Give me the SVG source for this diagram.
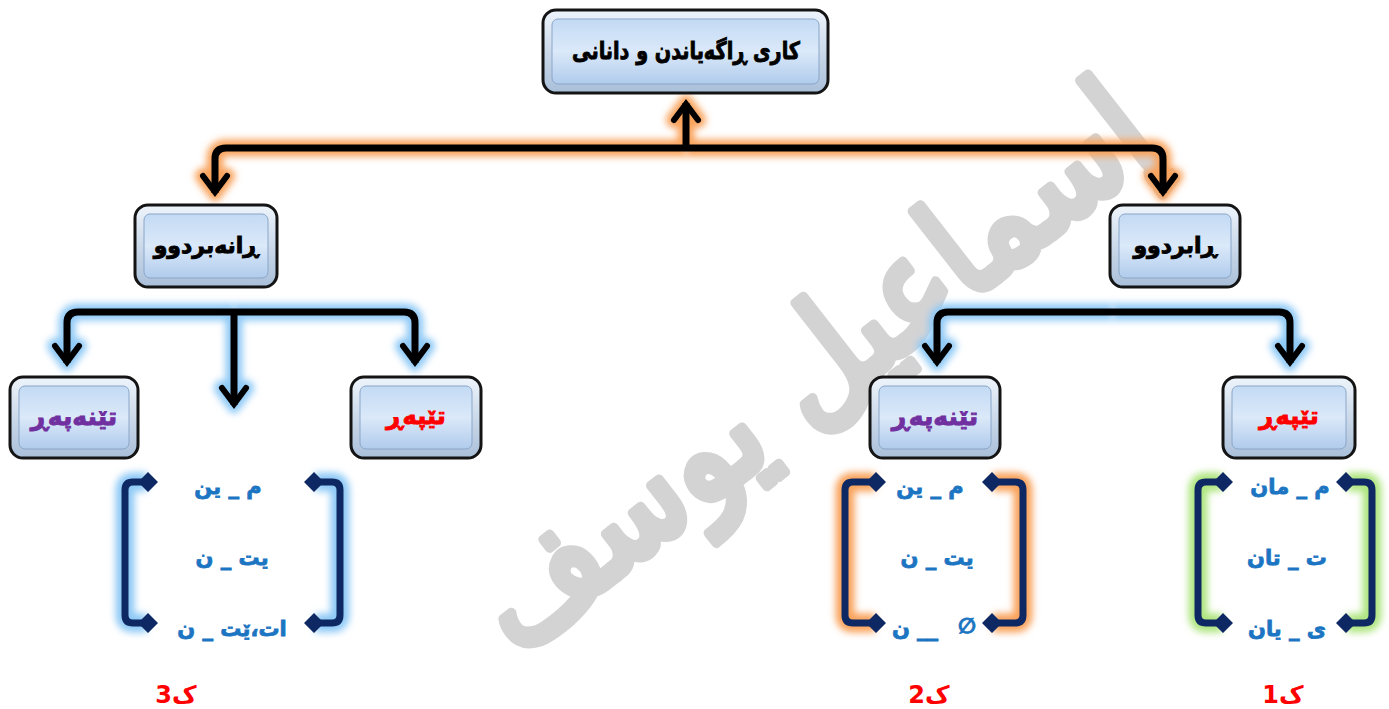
<svg xmlns="http://www.w3.org/2000/svg" width="1389" height="709" viewBox="0 0 1389 709">
<defs>
<linearGradient id="gOuter" x1="0" y1="0" x2="0" y2="1">
<stop offset="0" stop-color="#eef4fb"/><stop offset="1" stop-color="#a9bfd9"/>
</linearGradient>
<linearGradient id="gInner" x1="0" y1="0" x2="0" y2="1">
<stop offset="0" stop-color="#c3daf4"/><stop offset="0.5" stop-color="#dbe9f9"/><stop offset="1" stop-color="#b0cbec"/>
</linearGradient>
<filter id="blur" filterUnits="userSpaceOnUse" x="0" y="0" width="1389" height="709"><feGaussianBlur stdDeviation="3.5"/></filter>
<marker id="ah" viewBox="-22 -16 26 32" refX="0" refY="0" markerWidth="26" markerHeight="32" markerUnits="userSpaceOnUse" orient="auto">
<path d="M-17,-12 L-1,0 L-17,12" fill="none" stroke="#000" stroke-width="6" stroke-linecap="round" stroke-linejoin="miter"/>
</marker>
<marker id="ahO" viewBox="-28 -22 36 44" refX="0" refY="0" markerWidth="36" markerHeight="44" markerUnits="userSpaceOnUse" orient="auto">
<path d="M-17,-12 L-1,0 L-17,12" fill="none" stroke="#f9a35c" stroke-width="16" stroke-linecap="round"/>
</marker>
<marker id="ahB" viewBox="-28 -22 36 44" refX="0" refY="0" markerWidth="36" markerHeight="44" markerUnits="userSpaceOnUse" orient="auto">
<path d="M-17,-12 L-1,0 L-17,12" fill="none" stroke="#8ec9f6" stroke-width="16" stroke-linecap="round"/>
</marker>
</defs>
<style>
.outer{fill:url(#gOuter);stroke:#141414;stroke-width:3}
.inner{fill:url(#gInner);stroke:#8aa6c8;stroke-width:1}
.lbl{font-family:"DejaVu Sans",sans-serif;font-weight:bold;text-anchor:middle;dominant-baseline:central;stroke-width:0.9;paint-order:stroke}
.blk{fill:#000;stroke:#000;font-size:22px}
.pur{fill:#7030a0;stroke:#7030a0;font-size:25px}
.red{fill:#ff0000;stroke:#ff0000;font-size:24px}
.suf{font-family:"DejaVu Sans",sans-serif;font-weight:bold;font-size:21px;fill:#1c75c2;stroke:#1c75c2;stroke-width:0.8;text-anchor:middle}
.num{font-family:"DejaVu Sans",sans-serif;font-weight:bold;font-size:24px;fill:#ff0000;text-anchor:middle}
.line{fill:none;stroke:#000;stroke-width:7;marker-end:url(#ah)}
.gO{fill:none;stroke:#f9a35c;stroke-width:17;filter:url(#blur);marker-end:url(#ahO)}
.gB{fill:none;stroke:#8ec9f6;stroke-width:17;filter:url(#blur);marker-end:url(#ahB)}
.br{fill:none;stroke:#0d2863;stroke-width:7;stroke-linejoin:round}
.dm{fill:#0d2863}
.glB{fill:none;stroke:#8ec9f6;stroke-width:19;filter:url(#blur)}
.glO{fill:none;stroke:#f9a35c;stroke-width:19;filter:url(#blur)}
.glG{fill:none;stroke:#aee57f;stroke-width:19;filter:url(#blur)}
</style>

<g id="watermark">
<text x="810" y="365" transform="rotate(-38 810 365)" font-family="DejaVu Sans, sans-serif" font-size="140" fill="#d4d3d4" stroke="#d4d3d4" stroke-width="10" stroke-linejoin="round" text-anchor="middle" dominant-baseline="central" textLength="820" lengthAdjust="spacingAndGlyphs">إسماعيل يوسف</text>
</g>

<g id="connectors">
<g id="glows">
<path class="gO" d="M686,148 V103"/>
<path class="gO" d="M686,148 H226 Q215,148 215,159 V193"/>
<path class="gO" d="M686,148 H1152 Q1163,148 1163,159 V193"/>
<path class="gB" d="M234,312 H78 Q67,312 67,323 V363"/>
<path class="gB" d="M234,312 H404 Q415,312 415,323 V363"/>
<path class="gB" d="M234,310 V405"/>
<path class="gB" d="M1113,312 H948 Q937,312 937,323 V363"/>
<path class="gB" d="M1113,312 H1279 Q1290,312 1290,323 V363"/>
</g>
<path class="line" d="M686,148 V103"/>
<path class="line" d="M686,148 H226 Q215,148 215,159 V193"/>
<path class="line" d="M686,148 H1152 Q1163,148 1163,159 V193"/>
<path class="line" d="M234,312 H78 Q67,312 67,323 V363"/>
<path class="line" d="M234,312 H404 Q415,312 415,323 V363"/>
<path class="line" d="M234,309 V405"/>
<path class="line" d="M1113,312 H948 Q937,312 937,323 V363"/>
<path class="line" d="M1113,312 H1279 Q1290,312 1290,323 V363"/>
</g>

<g id="n-top">
<rect class="outer" x="543" y="10" width="285" height="83" rx="13"/>
<rect class="inner" x="552" y="19" width="267" height="65" rx="6"/>
<text class="lbl blk" x="686" y="51" style="font-size:24px" textLength="228" lengthAdjust="spacingAndGlyphs">کاری ڕاگەیاندن و دانانی</text>
</g>
<g id="n-ranebrdu">
<rect class="outer" x="135" y="205" width="142" height="82" rx="13"/>
<rect class="inner" x="144" y="214" width="124" height="64" rx="6"/>
<text class="lbl blk" x="206" y="245">ڕانەبردوو</text>
</g>
<g id="n-rabrdu">
<rect class="outer" x="1110" y="205" width="130" height="82" rx="13"/>
<rect class="inner" x="1119" y="214" width="112" height="64" rx="6"/>
<text class="lbl blk" x="1175" y="245">ڕابردوو</text>
</g>
<g id="n-tinepar-l">
<rect class="outer" x="10" y="377" width="128" height="81" rx="13"/>
<rect class="inner" x="19" y="386" width="110" height="63" rx="6"/>
<text class="lbl pur" x="74" y="416">تێنەپەڕ</text>
</g>
<g id="n-tepar-l">
<rect class="outer" x="351" y="377" width="130" height="81" rx="13"/>
<rect class="inner" x="360" y="386" width="112" height="63" rx="6"/>
<text class="lbl red" x="416" y="416">تێپەڕ</text>
</g>
<g id="n-tinepar-r">
<rect class="outer" x="870" y="377" width="130" height="81" rx="13"/>
<rect class="inner" x="879" y="386" width="112" height="63" rx="6"/>
<text class="lbl pur" x="935" y="416">تێنەپەڕ</text>
</g>
<g id="n-tepar-r">
<rect class="outer" x="1223" y="377" width="132" height="81" rx="13"/>
<rect class="inner" x="1232" y="386" width="114" height="63" rx="6"/>
<text class="lbl red" x="1289" y="416">تێپەڕ</text>
</g>

<g id="bracket-3">
<path class="glB" d="M147,482 H133 Q125,482 125,490 V615 Q125,623 133,623 H147"/>
<path class="glB" d="M315,482 H332 Q340,482 340,490 V615 Q340,623 332,623 H315"/>
<path class="br" d="M147,482 H133 Q125,482 125,490 V615 Q125,623 133,623 H147"/>
<path class="br" d="M315,482 H332 Q340,482 340,490 V615 Q340,623 332,623 H315"/>
<path class="dm" d="M138,482 l10,-10 l10,10 l-10,10z M138,623 l10,-10 l10,10 l-10,10z M304,482 l10,-10 l10,10 l-10,10z M304,623 l10,-10 l10,10 l-10,10z"/>
<text class="suf" x="228" y="494">م _ ین</text>
<text class="suf" x="232" y="565">یت _ ن</text>
<text class="suf" x="232" y="636">ات،ێت _ ن</text>
</g>
<g id="bracket-2">
<path class="glO" d="M875,482 H853 Q845,482 845,490 V615 Q845,623 853,623 H875"/>
<path class="glO" d="M993,482 H1015 Q1023,482 1023,490 V615 Q1023,623 1015,623 H993"/>
<path class="br" d="M875,482 H853 Q845,482 845,490 V615 Q845,623 853,623 H875"/>
<path class="br" d="M993,482 H1015 Q1023,482 1023,490 V615 Q1023,623 1015,623 H993"/>
<path class="dm" d="M866,482 l10,-10 l10,10 l-10,10z M866,623 l10,-10 l10,10 l-10,10z M982,482 l10,-10 l10,10 l-10,10z M982,623 l10,-10 l10,10 l-10,10z"/>
<text class="suf" x="930" y="494">م _ ین</text>
<text class="suf" x="937" y="565">یت _ ن</text>
<text class="suf" x="915" y="636">ن __</text>
<text class="suf" x="967" y="633">∅</text>
</g>
<g id="bracket-1">
<path class="glG" d="M1222,482 H1206 Q1198,482 1198,490 V615 Q1198,623 1206,623 H1222"/>
<path class="glG" d="M1347,482 H1364 Q1372,482 1372,490 V615 Q1372,623 1364,623 H1347"/>
<path class="br" d="M1222,482 H1206 Q1198,482 1198,490 V615 Q1198,623 1206,623 H1222"/>
<path class="br" d="M1347,482 H1364 Q1372,482 1372,490 V615 Q1372,623 1364,623 H1347"/>
<path class="dm" d="M1213,482 l10,-10 l10,10 l-10,10z M1213,623 l10,-10 l10,10 l-10,10z M1336,482 l10,-10 l10,10 l-10,10z M1336,623 l10,-10 l10,10 l-10,10z"/>
<text class="suf" x="1290" y="494">م _ مان</text>
<text class="suf" x="1287" y="565">ت _ تان</text>
<text class="suf" x="1287" y="636">ی _ یان</text>
</g>

<g id="labels">
<text class="num" x="176" y="703">ک3</text>
<text class="num" x="929" y="703">ک2</text>
<text class="num" x="1283" y="703">ک1</text>
</g>
</svg>
